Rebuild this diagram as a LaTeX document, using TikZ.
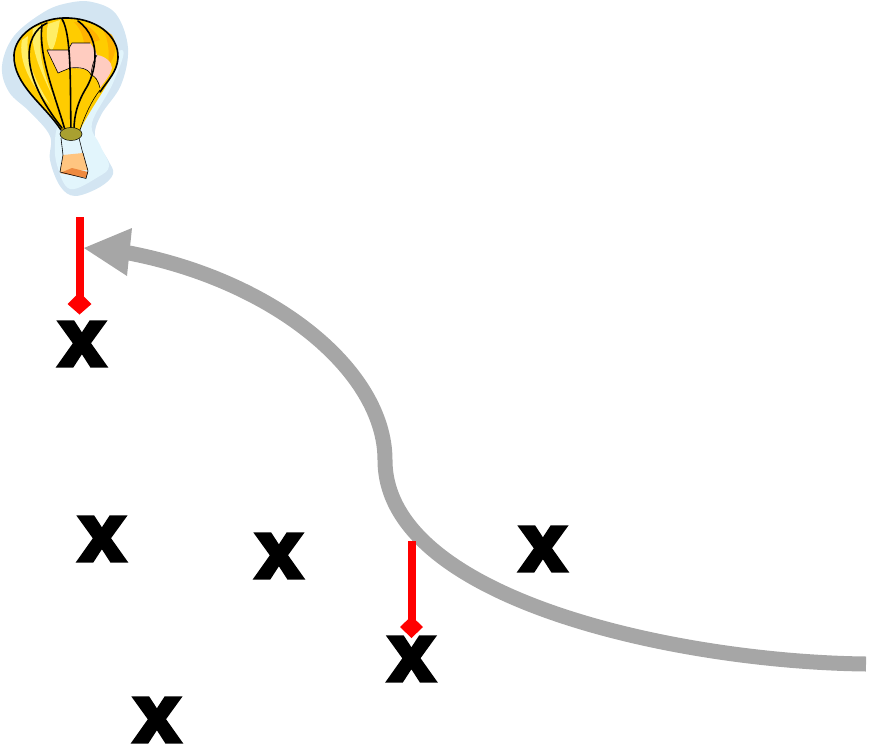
\documentclass[tikz,border=0pt]{standalone}
\usepackage{fontspec}
\newfontfamily\xfont[FakeBold=6]{Liberation Sans Bold}
\usetikzlibrary{calc}
\definecolor{halo}{HTML}{D3E5F2}
\definecolor{haloin}{HTML}{E2F5FC}
\definecolor{gold}{HTML}{FFCC00}
\definecolor{lightgold}{HTML}{FFEE66}
\definecolor{orangeb}{HTML}{FFB300}
\definecolor{pinkp}{HTML}{FFCCC0}
\definecolor{olivev}{HTML}{A9A030}
\definecolor{basket}{HTML}{FFC580}
\definecolor{basketd}{HTML}{EE8A40}
\definecolor{arrowg}{HTML}{A6A6A6}
\tikzset{
  xmark/.style={inner sep=0pt,font=\xfont\fontsize{80}{80}\selectfont,text=black},
  redstem/.style={draw=red,line width=8pt},
  reddiamond/.style={fill=red},
  rib/.style={draw=black,line width=1.6pt,line cap=round},
  thinrib/.style={draw=black,line width=0.6pt},
}
\begin{document}
\begin{tikzpicture}[x=1pt,y=-1pt]
\useasboundingbox (0,0) rectangle (873,747);
% halo
\fill[halo] plot[smooth cycle,tension=0.6] coordinates {(92,2) (116,14) (128,48) (121,85) (101,115) (95,137) (108,160) (113,174) (100,187) (75,196) (60,186) (50,160) (50,136) (30,112) (9,92) (2,66) (14,36) (44,12) (68,3)};
\fill[haloin] plot[smooth cycle,tension=0.6] coordinates {(122,50) (113,83) (92,123) (100,145) (109,166) (98,177) (70,189) (57,165) (55,140) (60,120) (80,80)};
% envelope
\path[fill=gold] (63,18) .. controls (95,17) and (119,35) .. (118,58) .. controls (117,75) and (95,100) .. (80,130) -- (61,130) .. controls (45,105) and (13,85) .. (14,55) .. controls (15,35) and (38,19) .. (63,18) -- cycle;
\fill[lightgold] (44,24) .. controls (36,40) and (40,70) .. (57,105) .. controls (42,75) and (30,50) .. (33,28) -- cycle;
\fill[lightgold] (22,40) .. controls (18,60) and (30,85) .. (50,105) .. controls (35,80) and (25,60) .. (28,36) -- cycle;
\fill[lightgold] (48,24) .. controls (45,35) and (48,50) .. (52,50) .. controls (56,45) and (58,30) .. (60,20) -- cycle;
\fill[orangeb] (74,22) .. controls (82,30) and (84,40) .. (84,45) -- (100,40) .. controls (96,30) and (85,23) .. (74,22) -- cycle;
\fill[orangeb] (100,26) .. controls (108,35) and (110,50) .. (108,66) .. controls (115,58) and (118,45) .. (112,35) -- cycle;
% pink panel
\fill[pinkp] (47,50) -- (68,50) -- (72,43) -- (90,43) .. controls (94,48) and (96,52) .. (97,55) .. controls (105,56) and (112,62) .. (112,68) .. controls (110,76) and (104,82) .. (100,88) .. controls (99,84) and (100,80) .. (92,75) .. controls (90,70) and (85,68) .. (70,68) -- (58,73) -- cycle;
\draw[thinrib] (47,50) -- (68,50) -- (72,43) -- (90,43);
\draw[thinrib] (47,50) -- (58,73) -- (70,68) .. controls (80,67) and (88,68) .. (91,75) .. controls (95,76) and (98,80) .. (100,88);
\draw[thinrib] (97,55) .. controls (94,60) and (92,65) .. (91,75);
% ribs
\draw[rib] (14,55) .. controls (15,35) and (38,19) .. (63,18) .. controls (95,17) and (119,35) .. (118,58) .. controls (117,72) and (108,80) .. (100,92);
\draw[rib] (14,55) .. controls (13,85) and (45,105) .. (61,130);
\draw[rib] (47,23) .. controls (22,35) and (20,75) .. (62,128);
\draw[rib] (42,25) .. controls (38,55) and (55,95) .. (65,130);
\draw[rib] (62,19) .. controls (72,35) and (70,90) .. (71,130);
\draw[rib] (78,21) .. controls (104,40) and (95,75) .. (85,90) .. controls (78,102) and (74,115) .. (74,130);
\draw[thinrib] (100,90) .. controls (92,100) and (85,115) .. (80,130);
% ropes
\draw[thinrib] (61,138) -- (63,155) (79,138) -- (83,154);
% neck
\draw[draw=black,line width=0.5pt,fill=olivev] (71,134) ellipse [x radius=11,y radius=6.5];
% basket
\fill[basket] (63,155) -- (83,153) -- (88,170) -- (60,172) -- cycle;
\fill[basketd] (60,173) -- (72,168) -- (88,172) -- (86,178) -- cycle;
\draw[black,line width=0.6pt] (63,155) -- (60,172) -- (86,178.5) -- (88,171) -- (83,153);
% gray arrow
\coordinate (a0) at (866,664);
\coordinate (a1) at (385,460);
\coordinate (a2) at (112,250);
\draw[arrowg,line width=15pt] (a0) .. controls (680,662) and (385,600) .. (a1) .. controls (385,370) and (270,275) .. (a2);
\fill[arrowg] (84,248) -- (132,228) -- (127,276) -- cycle;
% red stems
\coordinate (s1) at (79.5,217);
\coordinate (e1) at (79.5,300);
\coordinate (s2) at (411.5,541);
\coordinate (e2) at (411.5,622);
\draw[redstem] (s1) -- (e1);
\draw[redstem] (s2) -- (e2);
\fill[reddiamond] (79.5,292) -- (91.5,304) -- (79.5,314.5) -- (67.5,304) -- cycle;
% x marks
\node[xmark] (x1) at (82,344) {x};
\node[xmark] (x2) at (102,539) {x};
\node[xmark] (x3) at (279,556) {x};
\node[xmark] (x4) at (543,549) {x};
\node[xmark] (x5) at (411.5,659) {x};
\node[xmark] (x6) at (157,720) {x};
\fill[reddiamond] (411.5,616) -- (423,627) -- (411.5,638) -- (400,627) -- cycle;
\end{tikzpicture}
\end{document}
